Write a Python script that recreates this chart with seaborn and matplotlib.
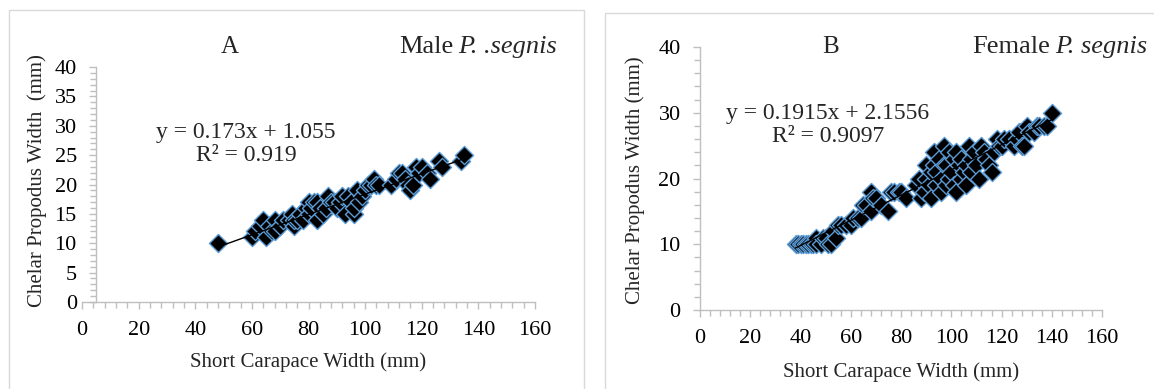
import numpy as np
import matplotlib
matplotlib.use('Agg')
import matplotlib.pyplot as plt
from matplotlib.patches import Rectangle
from matplotlib.ticker import MultipleLocator
import seaborn as sns
import pandas as pd

# male P. segnis: short carapace width (mm) vs chelar propodus width (mm)
male_scw = [48, 60, 61, 63, 64, 65, 66, 67, 68, 68, 70, 71, 73, 74, 75, 75, 76, 77,
            78, 79, 80, 80, 81, 82, 83, 83, 84, 85, 86, 87, 88, 89, 90, 91, 92, 93,
            94, 95, 96, 96, 97, 98, 99, 100, 101, 102, 103, 104, 105, 109, 111, 112,
            113, 114, 115, 116, 117, 118, 119, 120, 122, 123, 126, 127, 134, 135]
male_cpw = [10, 11, 12, 13, 14, 11, 13, 12, 14, 12, 13, 14, 14, 15, 13, 14, 14, 15,
            14, 16, 17, 15, 16, 17, 17, 14, 16, 15, 16, 18, 17, 17, 16, 17, 18, 15,
            18, 17, 15, 16, 19, 17, 18, 19, 20, 20, 21, 20, 20, 20, 21, 22,
            22, 21, 20, 19, 20, 23, 22, 23, 22, 21, 24, 23, 24, 25]

# female P. segnis
female_scw = [38, 39, 40, 41, 42, 43, 44, 45, 46, 46, 48, 49, 50, 51, 52, 53, 54, 55,
              56, 58, 60, 61, 63, 64, 65, 66, 68, 68, 69, 70, 72, 75, 76, 77, 79, 80,
              82, 86, 87, 88, 89, 90, 90, 91, 92, 92, 93, 93, 94, 94, 95, 96, 96, 97,
              97, 98, 98, 99, 99, 100, 101, 101, 102, 102, 103, 104, 104, 105, 106, 106,
              107, 108, 108, 109, 110, 111, 112, 113, 114, 115, 116, 117, 118, 119, 120,
              121, 123, 125, 126, 127, 128, 129, 130, 131, 133, 134, 135, 137, 138, 140]
female_cpw = [10, 10, 10, 10, 10, 10, 10, 10, 11, 10, 10, 11, 11, 10, 10, 12, 11, 13,
              13, 13, 13, 14, 14, 14, 16, 16, 18, 15, 17, 17, 16, 15, 18, 18, 18, 18,
              17, 19, 20, 17, 18, 22, 20, 19, 21, 17, 24, 22, 19, 21, 23, 18, 20, 25,
              22, 22, 19, 24, 20, 21, 23, 19, 18, 24, 22, 20, 23, 21, 22, 19,
              25, 23, 21, 24, 22, 20, 25, 24, 23, 22, 21, 24, 26, 25, 25,
              26, 26, 25, 26, 27, 25, 25, 28, 27, 27, 28, 28, 28, 28, 30]

male_fit = (0.173, 1.055)
female_fit = (0.1915, 2.1556)
male_eq = "y = 0.173x + 1.055\nR² = 0.919"
female_eq = "y = 0.1915x + 2.1556\nR² = 0.9097"

sns.set_theme(style='white')
plt.rcParams['font.family'] = ['Liberation Serif', 'DejaVu Serif']

AXIS_GREY = '#BFBFBF'
EDGE_BLUE = '#5B9BD5'

fig = plt.figure(figsize=(11.54, 3.89), dpi=100)

# panel frames
fig.patches.append(Rectangle((0.0078, -0.05), 0.4983, 1.024, transform=fig.transFigure,
                             fill=False, edgecolor='#D9D9D9', lw=1))
fig.patches.append(Rectangle((0.5243, -0.05), 0.49, 1.0166, transform=fig.transFigure,
                             fill=False, edgecolor='#D9D9D9', lw=1))

axA = fig.add_axes([0.0711, 0.2237, 0.3925, 0.604])
axB = fig.add_axes([0.6066, 0.2031, 0.3484, 0.676])


def style_axis(ax, ymajor, yminor, yspine_at):
    ax.set_xlim(0, 160)
    ax.set_ylim(0, 40)
    for s in ['top', 'right']:
        ax.spines[s].set_visible(False)
    for s in ['left', 'bottom']:
        ax.spines[s].set_color(AXIS_GREY)
        ax.spines[s].set_linewidth(1)
    ax.spines['left'].set_position(('data', yspine_at))
    ax.xaxis.set_major_locator(MultipleLocator(20))
    ax.xaxis.set_minor_locator(MultipleLocator(4))
    ax.yaxis.set_major_locator(MultipleLocator(ymajor))
    ax.yaxis.set_minor_locator(MultipleLocator(yminor))
    ax.tick_params(which='both', direction='out', color=AXIS_GREY, width=1,
                   bottom=True, left=True, top=False, right=False)
    ax.tick_params(which='major', length=5, labelsize=16, pad=9, labelcolor='black')
    ax.tick_params(which='minor', length=4)
    ax.grid(False)


def draw_panel(ax, scw, cpw, fit):
    df = pd.DataFrame({'scw': scw, 'cpw': cpw})
    sns.scatterplot(data=df, x='scw', y='cpw', marker='D', s=85, color='black',
                    edgecolor=EDGE_BLUE, linewidth=1, ax=ax, zorder=3)
    xs = np.array([df.scw.min(), df.scw.max()])
    ax.plot(xs, fit[0] * xs + fit[1], color='black', lw=1, zorder=4)


def species_title(ax, x, y, normal, italic):
    t = ax.text(x, y, italic, transform=ax.transAxes, ha='right', va='center',
                fontsize=19, style='italic')
    fig.canvas.draw()
    bb = t.get_window_extent()
    x0 = ax.transAxes.inverted().transform((bb.x0 - 5, bb.y0))[0]
    ax.text(x0, y, normal, transform=ax.transAxes, ha='right', va='center', fontsize=19)


draw_panel(axA, male_scw, male_cpw, male_fit)
style_axis(axA, 5, 1, 5)
axA.set_xlabel('Short Carapace Width (mm)', fontsize=15, va='center')
axA.xaxis.set_label_coords(0.5, -0.255)
axA.set_ylabel('Chelar Propodus Width  (mm)', fontsize=15, va='center')
axA.yaxis.set_label_coords(-0.099, 0.515)
axA.text(0.362, 0.672, male_eq, transform=axA.transAxes, ha='center', va='center',
         fontsize=17, multialignment='center', linespacing=1.15)
axA.text(0.327, 1.085, 'A', transform=axA.transAxes, ha='center', va='center', fontsize=18)

draw_panel(axB, female_scw, female_cpw, female_fit)
style_axis(axB, 10, 2, 0)
axB.set_xlabel('Short Carapace Width (mm)', fontsize=15, va='center')
axB.xaxis.set_label_coords(0.5, -0.236)
axB.set_ylabel('Chelar Propodus Width (mm)', fontsize=15, va='center')
axB.yaxis.set_label_coords(-0.162, 0.494)
axB.text(0.318, 0.703, female_eq, transform=axB.transAxes, ha='center', va='center',
         fontsize=17, multialignment='center', linespacing=1.15)
axB.text(0.326, 1.0, 'B', transform=axB.transAxes, ha='center', va='center', fontsize=18)

species_title(axA, 1.049, 1.085, 'Male', 'P. .segnis')
species_title(axB, 1.112, 1.0, 'Female', 'P. segnis')

fig.savefig('out.png', dpi=100)
